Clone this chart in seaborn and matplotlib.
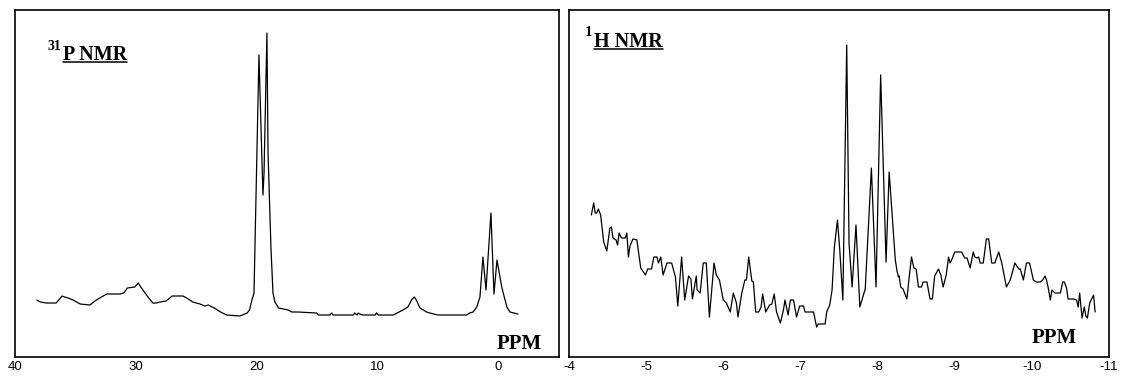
import numpy as np
import pandas as pd
import matplotlib
matplotlib.use("Agg")
import matplotlib.pyplot as plt
import seaborn as sns
from matplotlib.lines import Line2D
from matplotlib.ticker import MultipleLocator


# ============================================================
# Data (intensity in a.u.)
# ============================================================

# 31P NMR
p_ppm = [38.2, 37.9, 37.4, 36.6, 36.1, 35.9, 35.6, 35.2, 34.6, 33.8, 33.5, 33.0,
         32.4, 31.3, 31.0, 30.7, 30.1, 29.8, 29.6, 29.3, 29.0, 28.6, 28.3, 28.0,
         27.5, 27.0, 26.1, 25.8, 25.3, 24.7, 24.3, 24.0, 23.7, 23.5, 23.0, 22.5,
         21.4, 20.8, 20.6, 20.4, 20.23, 20.07, 19.82, 19.49, 19.4, 19.16, 19.07,
         18.83, 18.66, 18.5, 18.2, 17.4, 17.1, 16.6, 15.05, 14.9, 13.95, 13.8,
         13.7, 12.0, 11.9, 11.7, 11.6, 11.5, 11.2, 10.2, 10.1, 9.95, 8.7, 8.4,
         7.9, 7.5, 7.2, 6.97, 6.8, 6.5, 5.95, 5.7, 5.0, 2.64, 2.4, 2.1, 1.8,
         1.54, 1.29, 1.04, 0.63, 0.38, 0.13, -0.28, -0.69, -0.94, -1.6]
p_int = [57, 55, 54, 54, 61, 60, 59, 57, 53, 52, 55, 59,
         63, 63, 64, 69, 70, 74, 70, 65, 60, 54, 54, 55,
         56, 61, 61, 59, 55, 53, 51, 52, 50, 49, 45, 42,
         41, 44, 47, 57, 64, 157, 302, 162, 184, 324, 205,
         110, 64, 55, 49, 47, 45, 45, 44, 42, 42, 44,
         42, 42, 44, 42, 44, 43, 42, 42, 44, 42, 42, 44,
         47, 50, 57, 60, 57, 49, 45, 44, 42, 42, 44, 45, 50,
         60, 100, 67, 144, 63, 97, 69, 50, 45, 43]

# 1H NMR
h_ppm = [-4.29, -4.32, -4.34, -4.36, -4.38, -4.41, -4.45, -4.49, -4.53, -4.55,
         -4.57, -4.61, -4.63, -4.65, -4.68, -4.73, -4.75, -4.77, -4.79, -4.83,
         -4.88, -4.93, -4.99, -5.02, -5.07, -5.10, -5.14, -5.16, -5.19, -5.22,
         -5.27, -5.33, -5.38, -5.41, -5.46, -5.50, -5.55, -5.58, -5.60, -5.65,
         -5.66, -5.70, -5.74, -5.78, -5.82, -5.88, -5.91, -5.95, -6.00, -6.04,
         -6.09, -6.13, -6.17, -6.19, -6.24, -6.28, -6.30, -6.33, -6.37, -6.39,
         -6.42, -6.46, -6.49, -6.51, -6.55, -6.60, -6.63, -6.66, -6.69, -6.74,
         -6.78, -6.80, -6.84, -6.87, -6.91, -6.95, -6.99, -7.04, -7.06, -7.17,
         -7.21, -7.23, -7.32, -7.34, -7.38, -7.41, -7.44, -7.48, -7.51, -7.55,
         -7.60, -7.63, -7.67, -7.72, -7.77, -7.84, -7.92, -7.98, -8.04, -8.11,
         -8.15, -8.23, -8.25, -8.27, -8.28, -8.30, -8.33, -8.38, -8.41, -8.44,
         -8.47, -8.50, -8.53, -8.57, -8.59, -8.64, -8.68, -8.71, -8.74, -8.79,
         -8.82, -8.85, -8.89, -8.92, -8.94, -8.96, -9.00, -9.09, -9.13, -9.16,
         -9.20, -9.24, -9.26, -9.29, -9.31, -9.33, -9.37, -9.41, -9.44, -9.48,
         -9.52, -9.57, -9.61, -9.67, -9.72, -9.78, -9.83, -9.85, -9.89, -9.93,
         -9.97, -10.02, -10.06, -10.11, -10.14, -10.17, -10.19, -10.21, -10.24,
         -10.26, -10.30, -10.37, -10.40, -10.42, -10.45, -10.47, -10.54, -10.58,
         -10.60, -10.62, -10.65, -10.68, -10.70, -10.72, -10.75, -10.80, -10.82]
h_int = [142, 154, 144, 144, 148, 142, 115, 106, 129, 130,
         119, 117, 112, 124, 119, 119, 124, 100, 111, 118,
         117, 89, 82, 88, 88, 100, 100, 94, 100, 82,
         94, 94, 80, 51, 100, 57, 81, 78, 58, 81,
         67, 64, 94, 94, 40, 94, 82, 77, 57, 54,
         45, 64, 54, 40, 64, 77, 77, 100, 76, 75,
         45, 45, 50, 63, 45, 52, 53, 63, 45, 34,
         47, 57, 42, 57, 57, 40, 51, 51, 45, 45,
         30, 33, 33, 45, 52, 67, 110, 137, 107, 57,
         312, 114, 70, 132, 50, 68, 189, 70, 282, 95,
         185, 97, 87, 80, 81, 70, 68, 58, 80, 100,
         89, 88, 70, 70, 75, 75, 58, 58, 81, 88,
         82, 70, 82, 100, 94, 97, 105, 105, 99, 99,
         89, 105, 100, 99, 100, 94, 94, 118, 118, 94,
         94, 105, 94, 70, 77, 94, 88, 88, 77, 94,
         94, 77, 75, 75, 77, 81, 77, 70, 57,
         67, 64, 64, 75, 75, 69, 58, 58, 57,
         50, 64, 39, 50, 41, 39, 54, 62, 45]

p_ticks = [40, 30, 20, 10, 0]
p_ticklabels = ["40", "30", "20", "10", "0"]
h_ticks = [-4, -5, -6, -7, -8, -9, -10, -11]
h_ticklabels = ["-4", "-5", "-6", "-7", "-8", "-9", "-10", "-11"]

p_df = pd.DataFrame({"ppm": p_ppm, "intensity": p_int})
h_df = pd.DataFrame({"ppm": h_ppm, "intensity": h_int})


# ============================================================
# Figure
# ============================================================

sns.set_style("white")
plt.rcParams["font.family"] = ["Liberation Sans", "DejaVu Sans"]
plt.rcParams["text.color"] = "black"
plt.rcParams["xtick.color"] = "black"

W, H = 1121, 376
fig = plt.figure(figsize=(W / 100, H / 100), dpi=100)

ax_p = fig.add_axes([15 / W, 19 / H, 544 / W, 347 / H])
ax_h = fig.add_axes([569 / W, 19 / H, 540 / W, 347 / H])

serif = ["Liberation Serif", "DejaVu Serif"]


def underline(ax, txt, y_frac):
    fig.canvas.draw()
    bb = txt.get_window_extent(fig.canvas.get_renderer())
    inv = fig.transFigure.inverted()
    x0, _ = inv.transform((bb.x0, 0))
    x1, _ = inv.transform((bb.x1, 0))
    _, yb = inv.transform(ax.transAxes.transform((0, y_frac)))
    yb -= 2.0 / H
    fig.add_artist(Line2D([x0, x1], [yb, yb], color="black", lw=1.1,
                          transform=fig.transFigure))


for ax, df, xlim, ticks, labels in [
    (ax_p, p_df, (40, -5), p_ticks, p_ticklabels),
    (ax_h, h_df, (-4, -11), h_ticks, h_ticklabels),
]:
    sns.lineplot(data=df, x="ppm", y="intensity", sort=False, estimator=None,
                 color="black", linewidth=0.9, ax=ax)
    ax.set_xlim(*xlim)
    ax.set_ylim(0, 347)
    ax.set_yticks([])
    ax.set_xticks(ticks)
    ax.set_xticklabels(labels)
    ax.set_xlabel("")
    ax.set_ylabel("")
    for s in ax.spines.values():
        s.set_color("black")
        s.set_linewidth(1.2)
        s.set_visible(True)

ax_p.tick_params(axis="x", direction="in", length=6, width=1, pad=3,
                 labelsize=9.5, colors="black")
ax_h.xaxis.set_minor_locator(MultipleLocator(0.1))
ax_h.tick_params(axis="x", which="major", direction="in", length=4, width=1,
                 pad=3, labelsize=9.5, colors="black")
ax_h.tick_params(axis="x", which="minor", direction="in", length=2.3, width=0.8,
                 colors="black")

# panel titles
t_p = ax_p.text(0.088, 0.856, "P NMR", transform=ax_p.transAxes, ha="left",
                va="baseline", family=serif, weight="bold", fontsize=14.5,
                color="black")
ax_p.text(0.0846, 0.885, "31", transform=ax_p.transAxes, ha="right",
          va="baseline", family=serif, weight="bold", fontsize=10,
          color="black")
t_h = ax_h.text(0.046, 0.893, "H NMR", transform=ax_h.transAxes, ha="left",
                va="baseline", family=serif, weight="bold", fontsize=14.5,
                color="black")
ax_h.text(0.0435, 0.925, "1", transform=ax_h.transAxes, ha="right",
          va="baseline", family=serif, weight="bold", fontsize=10.5,
          color="black")

ax_p.text(0.886, 0.023, "PPM", transform=ax_p.transAxes, ha="left",
          va="baseline", family=serif, weight="bold", fontsize=15,
          color="black")
ax_h.text(0.856, 0.040, "PPM", transform=ax_h.transAxes, ha="left",
          va="baseline", family=serif, weight="bold", fontsize=15,
          color="black")

underline(ax_p, t_p, 0.856)
underline(ax_h, t_h, 0.893)

fig.savefig("out.png", dpi=100)
